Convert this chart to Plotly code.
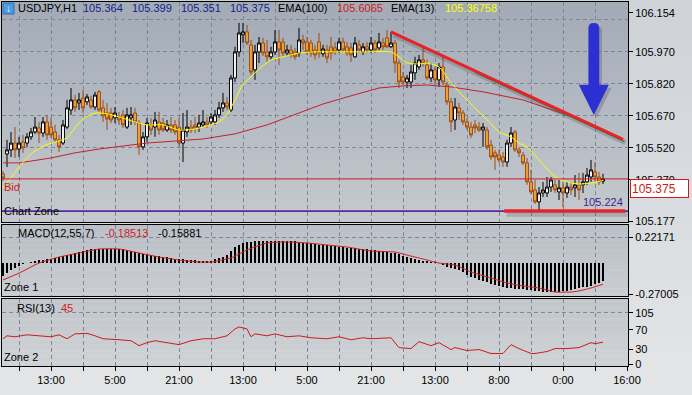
import plotly.graph_objects as go

# ---------------- data ----------------
OPEN = [105.398,105.492,105.511,105.543,105.515,105.548,105.543,105.572,105.595,105.614,
        105.590,105.642,105.618,105.595,105.558,105.543,105.618,105.698,105.745,105.731,
        105.754,105.736,105.745,105.712,105.783,105.708,105.684,105.684,105.661,105.665,
        105.675,105.618,105.661,105.684,105.637,105.525,105.572,105.628,105.618,105.642,
        105.637,105.604,105.628,105.628,105.618,105.543,105.595,105.618,105.628,105.618,
        105.628,105.642,105.642,105.642,105.675,105.708,105.731,105.698,105.848,105.970,
        106.050,106.064,106.003,105.886,105.970,106.012,105.970,105.947,105.970,106.017,
        106.017,105.965,105.979,105.970,105.965,106.026,106.017,106.012,105.979,106.017,
        105.961,105.979,105.994,105.989,105.979,106.017,105.994,105.989,105.947,106.003,
        105.970,105.994,105.979,106.012,105.989,106.012,106.036,105.994,106.012,105.918,
        105.853,105.829,105.829,105.872,105.900,105.933,105.909,105.848,105.886,105.839,
        105.900,105.815,105.736,105.651,105.708,105.684,105.642,105.618,105.628,105.618,
        105.604,105.604,105.534,105.497,105.487,105.478,105.454,105.543,105.595,105.511,
        105.487,105.450,105.361,105.323,105.267,105.309,105.309,105.337,105.347,105.314,
        105.333,105.309,105.337,105.333,105.347,105.347,105.361,105.384,105.408,105.384,
        105.364]
HIGH = [105.412,105.558,105.595,105.618,105.572,105.581,105.590,105.614,105.665,105.642,
        105.665,105.675,105.661,105.628,105.581,105.651,105.745,105.801,105.768,105.778,
        105.792,105.773,105.764,105.783,105.792,105.745,105.731,105.708,105.712,105.689,
        105.698,105.708,105.712,105.708,105.651,105.595,105.661,105.661,105.689,105.689,
        105.661,105.651,105.665,105.651,105.661,105.684,105.698,105.651,105.665,105.675,
        105.698,105.665,105.684,105.698,105.736,105.778,105.759,105.862,105.994,106.106,
        106.106,106.097,106.026,106.003,106.040,106.036,106.026,105.994,106.073,106.073,
        106.036,106.003,106.003,105.989,106.083,106.050,106.040,106.026,106.003,106.059,
        106.003,106.003,106.040,106.017,106.036,106.036,106.017,106.012,106.040,106.026,
        106.012,106.017,106.040,106.026,106.059,106.036,106.073,106.064,106.026,105.933,
        105.876,105.862,105.909,105.947,105.956,105.989,105.933,105.918,105.900,105.918,
        105.947,105.829,105.754,105.754,105.731,105.698,105.661,105.642,105.651,105.642,
        105.637,105.618,105.558,105.511,105.511,105.501,105.558,105.618,105.604,105.525,
        105.501,105.473,105.417,105.370,105.337,105.361,105.384,105.384,105.370,105.370,
        105.361,105.361,105.361,105.393,105.403,105.403,105.426,105.464,105.454,105.408,
        105.399]
LOW = [105.365,105.431,105.478,105.473,105.478,105.497,105.525,105.558,105.586,105.543,
       105.572,105.558,105.567,105.548,105.501,105.534,105.609,105.675,105.689,105.698,
       105.684,105.722,105.703,105.698,105.689,105.642,105.604,105.637,105.637,105.628,
       105.614,105.609,105.628,105.628,105.487,105.511,105.548,105.581,105.572,105.581,
       105.595,105.595,105.590,105.581,105.525,105.454,105.572,105.590,105.590,105.595,
       105.618,105.614,105.628,105.628,105.661,105.689,105.698,105.689,105.829,105.947,
       106.012,106.003,105.862,105.839,105.918,105.951,105.923,105.933,105.956,105.909,
       105.947,105.951,105.942,105.933,105.947,105.979,105.956,105.947,105.933,105.942,
       105.947,105.918,105.933,105.956,105.965,105.970,105.951,105.923,105.942,105.965,
       105.956,105.965,105.965,105.965,105.979,105.979,105.989,105.989,105.872,105.801,
       105.815,105.801,105.801,105.839,105.886,105.900,105.839,105.829,105.815,105.806,
       105.815,105.722,105.595,105.604,105.651,105.628,105.604,105.567,105.590,105.595,
       105.525,105.511,105.464,105.417,105.450,105.431,105.431,105.525,105.501,105.478,
       105.440,105.347,105.304,105.257,105.229,105.290,105.290,105.314,105.309,105.276,
       105.243,105.286,105.300,105.290,105.276,105.309,105.347,105.361,105.361,105.347,
       105.351]
CLOSE = [105.379,105.511,105.543,105.511,105.543,105.520,105.572,105.595,105.618,105.590,
         105.642,105.581,105.581,105.558,105.525,105.628,105.708,105.745,105.708,105.745,
         105.708,105.759,105.712,105.768,105.698,105.670,105.656,105.651,105.684,105.651,
         105.628,105.675,105.675,105.642,105.525,105.572,105.637,105.604,105.651,105.604,
         105.604,105.628,105.604,105.595,105.543,105.604,105.618,105.604,105.614,105.637,
         105.642,105.628,105.665,105.675,105.708,105.731,105.712,105.848,105.970,106.059,
         106.064,106.012,105.876,105.970,106.012,105.965,105.947,105.970,106.017,105.979,
         105.965,105.979,105.956,105.947,106.026,106.012,105.970,105.965,105.956,105.965,
         105.984,105.942,105.965,105.970,106.017,105.979,105.965,105.956,106.012,105.979,
         105.994,105.979,106.012,105.979,106.017,105.994,105.994,106.012,105.918,105.829,
         105.829,105.848,105.876,105.918,105.933,105.918,105.848,105.886,105.839,105.900,
         105.829,105.736,105.642,105.712,105.684,105.642,105.618,105.581,105.614,105.604,
         105.618,105.525,105.478,105.478,105.464,105.454,105.543,105.590,105.511,105.497,
         105.450,105.361,105.314,105.267,105.309,105.323,105.337,105.370,105.323,105.333,
         105.309,105.337,105.323,105.347,105.323,105.361,105.393,105.417,105.384,105.361,
         105.375]

EMA13_X = [0,2,4,7,10,14,16,18,20,23,26,29,33,36,40,44,48,51,54,56,58,60,62,64,67,70,74,78,
           90,97,99,101,104,106,109,112,114,117,120,122,124,127,129,131,134,137,139,142,144,147,150]
EMA13 = [105.333,105.379,105.431,105.492,105.529,105.553,105.567,105.614,105.656,105.684,
         105.680,105.665,105.642,105.628,105.628,105.604,105.609,105.623,105.642,105.675,
         105.745,105.820,105.853,105.890,105.933,105.947,105.965,105.970,105.970,105.970,
         105.947,105.918,105.914,105.918,105.900,105.825,105.783,105.726,105.670,105.633,
         105.595,105.572,105.543,105.525,105.464,105.403,105.375,105.356,105.351,105.356,
         105.36758]

EMA100_X = [0,4,12,18,24,36,50,58,66,74,80,86,94,100,106,112,120,130,138,146,150]
EMA100 = [105.450,105.450,105.473,105.497,105.515,105.543,105.562,105.586,105.628,105.684,
          105.726,105.759,105.801,105.811,105.815,105.806,105.783,105.745,105.694,105.642,
          105.6065]

MACD_HIST = [-0.115,-0.089,-0.063,-0.046,-0.028,-0.011,-0.003,0.006,0.015,0.019,
             0.023,0.030,0.036,0.042,0.049,0.058,0.066,0.075,0.084,0.092,
             0.101,0.110,0.118,0.120,0.121,0.120,0.118,0.118,0.119,0.119,
             0.118,0.110,0.101,0.092,0.084,0.077,0.070,0.064,0.058,0.054,
             0.050,0.045,0.041,0.036,0.032,0.028,0.023,0.021,0.019,0.017,
             0.015,0.015,0.015,0.028,0.041,0.053,0.066,0.100,0.135,0.153,
             0.170,0.175,0.179,0.183,0.187,0.188,0.189,0.190,0.190,0.189,
             0.188,0.187,0.187,0.183,0.178,0.174,0.170,0.166,0.162,0.157,
             0.153,0.149,0.144,0.140,0.137,0.135,0.131,0.128,0.124,0.121,
             0.117,0.114,0.110,0.106,0.101,0.097,0.093,0.088,0.084,0.072,
             0.061,0.049,0.040,0.032,0.023,0.017,0.012,0.006,0.002,-0.003,
             -0.020,-0.037,-0.046,-0.054,-0.063,-0.083,-0.103,-0.123,-0.135,-0.147,
             -0.158,-0.170,-0.181,-0.192,-0.201,-0.210,-0.218,-0.221,-0.224,-0.227,
             -0.230,-0.233,-0.236,-0.242,-0.247,-0.253,-0.254,-0.254,-0.253,-0.250,
             -0.247,-0.244,-0.235,-0.227,-0.218,-0.212,-0.207,-0.201,-0.187,-0.173,
             -0.15881]
MACD_SIG_X = [0,4,9,14,19,24,29,34,39,44,49,52,57,61,66,71,76,81,86,92,98,101,105,109,113,
              117,122,126,130,134,138,142,144,147,150]
MACD_SIG = [-0.149,-0.090,-0.003,0.049,0.084,0.118,0.118,0.084,0.049,0.023,0.006,0.006,
            0.041,0.110,0.170,0.179,0.170,0.153,0.135,0.101,0.092,0.066,0.032,-0.003,
            -0.020,-0.080,-0.132,-0.175,-0.201,-0.218,-0.253,-0.253,-0.244,-0.218,-0.18513]

RSI_X = [0,1,3,6,9,12,14,16,18,21,23,25,29,32,34,36,38,41,44,47,50,53,56,58,59,61,62,63,66,
         68,71,74,77,81,84,87,90,92,95,97,99,101,102,104,106,107,109,112,113,116,119,122,
         124,125,127,129,132,133,136,138,141,144,147,148,150]
RSI = [52,58,56,60,58,56,60,52,62,63,58,52,50,48,38,44,48,44,40,48,52,52,58,72,76,72,56,62,58,
       62,56,58,54,52,56,50,54,52,54,54,34,32,32,46,40,38,44,30,34,28,30,22,
       22,22,40,32,22,22,26,32,32,34,44,42,45]

X_TICKS = list(range(4, 157, 8))
X_LABELS = ['', '13:00', '', '5:00', '', '21:00', '', '13:00', '', '5:00', '',
            '21:00', '', '13:00', '', '8:00', '', '0:00', '', '16:00']
PRICE_TICKS = [106.154, 105.970, 105.820, 105.670, 105.520, 105.370, 105.177]
PRICE_GRID = [105.22, 105.52, 105.67, 105.82, 105.97, 106.12]
MACD_TICKS = [0.22171, -0.27005]
RSI_TICKS = [105, 70, 30, 0]

BID = 105.375
ZONE_LEVEL = 105.224
TREND = [(97, 106.064), (155, 105.560)]
SUPPORT = [(125.3, 105.224), (155.5, 105.224)]
ARROW_X, ARROW_TOP, ARROW_NECK, ARROW_TIP = 147.7, 106.106, 105.812, 105.675

# ---------------- styling helpers ----------------
W, H = 692, 395
ML, MR, MT, MB = 2, 64, 2, 29
PW, PH = W - ML - MR, H - MT - MB
FONT = 'Liberation Sans, Arial, sans-serif'


def px(xp):
    return (xp - ML) / PW


def py(yp):
    return (H - MB - yp) / PH


def hx(c):
    c = c.lstrip('#')
    return [int(c[i:i + 2], 16) for i in (0, 2, 4)]


def gradient(y0, y1, ctop, cbot, x0=0.0, x1=1.0, n=28):
    a, b = hx(ctop), hx(cbot)
    out = []
    step = (y1 - y0) / n
    for k in range(n):
        t = k / (n - 1)
        col = 'rgb(%d,%d,%d)' % tuple(round(a[j] + (b[j] - a[j]) * t) for j in range(3))
        top = y1 - k * step
        out.append(dict(type='rect', xref='paper', yref='paper', x0=x0, x1=x1,
                        y0=top - step * 1.08, y1=top, fillcolor=col, line_width=0,
                        layer='below'))
    return out


D_MAIN = [py(222), 1.0]
D_MACD = [py(296), py(225)]
D_RSI = [0.0, py(299)]

fig = go.Figure()

fig.add_trace(go.Candlestick(
    x=list(range(len(OPEN))), open=OPEN, high=HIGH, low=LOW, close=CLOSE,
    increasing=dict(fillcolor='#ffffff', line=dict(color='#000000', width=1)),
    decreasing=dict(fillcolor='#f2a436', line=dict(color='#9a4c16', width=1)),
    whiskerwidth=0, xaxis='x', yaxis='y', showlegend=False, hoverinfo='skip'))
fig.add_trace(go.Scatter(x=EMA100_X, y=EMA100, mode='lines', xaxis='x', yaxis='y',
                         line=dict(color='#c4202a', width=1), showlegend=False))
fig.add_trace(go.Scatter(x=EMA13_X, y=EMA13, mode='lines', xaxis='x', yaxis='y',
                         line=dict(color='#ffff00', width=1, shape='spline', smoothing=0.6),
                         showlegend=False))

fig.add_trace(go.Bar(x=list(range(len(MACD_HIST))), y=MACD_HIST, width=0.28,
                     marker=dict(color='#000000', line=dict(width=0)),
                     xaxis='x2', yaxis='y2', showlegend=False))
fig.add_trace(go.Scatter(x=MACD_SIG_X, y=MACD_SIG, mode='lines', xaxis='x2', yaxis='y2',
                         line=dict(color='#d01c1c', width=1, shape='spline', smoothing=0.5),
                         showlegend=False))
fig.add_trace(go.Scatter(x=RSI_X, y=RSI, mode='lines', xaxis='x3', yaxis='y3',
                         line=dict(color='#cc1c1c', width=1), showlegend=False))

grid = dict(gridcolor='#7c8898', griddash='4px,3px', gridwidth=1)
xcommon = dict(range=[-0.25, 156.25], tickmode='array', tickvals=X_TICKS, ticktext=X_LABELS,
               showgrid=True, zeroline=False, showline=True, mirror=True,
               linecolor='#000000', linewidth=1, **grid)
ycommon = dict(side='right', zeroline=False, showline=True, mirror=True, linecolor='#000000',
               linewidth=1, ticks='outside', ticklen=4, tickcolor='#000000',
               tickfont=dict(size=11, color='#000000', family=FONT), showgrid=False)

shapes = []
shapes += gradient(py(395), py(0), '#cfd3d8', '#e3e5e7', x0=px(0), x1=px(692))
shapes += gradient(D_MAIN[0], D_MAIN[1], '#a3abb6', '#c5c9ce')
shapes += gradient(D_MACD[0], D_MACD[1], '#b9bfc6', '#c9cdd1')
shapes += gradient(D_RSI[0], D_RSI[1], '#c1c6cb', '#cfd2d5')

# level lines
shapes.append(dict(type='line', xref='x', yref='y', x0=-0.25, x1=156.25, y0=BID, y1=BID,
                   line=dict(color='#c81e1e', width=1), layer='above'))
shapes.append(dict(type='line', xref='x', yref='y', x0=-0.25, x1=156.25, y0=ZONE_LEVEL,
                   y1=ZONE_LEVEL, line=dict(color='#5b2a9e', width=1.6), layer='above'))
# shadows
(tx0, ty0), (tx1, ty1) = TREND
shapes.append(dict(type='line', xref='x', yref='y', x0=tx0 + 0.6, x1=tx1 + 0.6,
                   y0=ty0 - 0.015, y1=ty1 - 0.015,
                   line=dict(color='rgba(60,60,70,0.22)', width=5), layer='above'))
(sx0, sy0), (sx1, sy1) = SUPPORT
shapes.append(dict(type='line', xref='x', yref='y', x0=sx0 + 0.6, x1=sx1 + 0.6,
                   y0=sy0 - 0.015, y1=sy1 - 0.015,
                   line=dict(color='rgba(60,60,70,0.22)', width=5), layer='above'))
# green companion line under the trend line
slope = (ty1 - ty0) / (tx1 - tx0)
gx0 = 118
shapes.append(dict(type='line', xref='x', yref='y', x0=gx0, x1=tx1 + 0.3,
                   y0=ty0 + slope * (gx0 - tx0) - 0.007, y1=ty1 + slope * 0.3 - 0.007,
                   line=dict(color='#2e7d32', width=1.3), layer='above'))
shapes.append(dict(type='line', xref='x', yref='y', x0=tx0, x1=tx1, y0=ty0, y1=ty1,
                   line=dict(color='#e82228', width=3), layer='above'))
shapes.append(dict(type='line', xref='x', yref='y', x0=sx0, x1=sx1, y0=sy0, y1=sy1,
                   line=dict(color='#e82228', width=3.5), layer='above'))


def arrow_paths(cx, dx, dy, color):
    sh, hh, cap = 1.35, 3.75, 0.024
    shaft = (f'M {cx - sh + dx},{ARROW_NECK + dy} L {cx - sh + dx},{ARROW_TOP - cap + dy} '
             f'Q {cx - sh + dx},{ARROW_TOP + dy} {cx + dx},{ARROW_TOP + dy} '
             f'Q {cx + sh + dx},{ARROW_TOP + dy} {cx + sh + dx},{ARROW_TOP - cap + dy} '
             f'L {cx + sh + dx},{ARROW_NECK + dy} Z')
    head = (f'M {cx - hh + dx},{ARROW_NECK + 0.004 + dy} L {cx + hh + dx},{ARROW_NECK + 0.004 + dy} '
            f'L {cx + dx},{ARROW_TIP + dy} Z')
    return [dict(type='path', xref='x', yref='y', path=p, fillcolor=color,
                 line=dict(width=0), layer='above') for p in (shaft, head)]


shapes += arrow_paths(ARROW_X, 0.7, -0.014, 'rgba(50,50,70,0.25)')
shapes += arrow_paths(ARROW_X, 0, 0, '#2c2fd2')

# icon box
shapes.append(dict(type='rect', xref='paper', yref='paper', x0=px(3), x1=px(14),
                   y0=py(14), y1=py(3), fillcolor='#4d9be0', line=dict(color='#2c6cb4', width=1),
                   layer='above'))

ann = []


def txt(x, y, s, color='#000000', size=11, anchor='left'):
    ann.append(dict(x=px(x), y=py(y), xref='paper', yref='paper', text=s, showarrow=False,
                    xanchor=anchor, yanchor='middle',
                    font=dict(family=FONT, size=size, color=color)))


txt(3.5, 8.5, '<b>↓</b>', '#ffffff', 10)
txt(16, 8, 'USDJPY,H1')
txt(81, 8, f'{OPEN[-1]:.3f}', '#14238c')
txt(130, 8, f'{HIGH[-1]:.3f}', '#14238c')
txt(179, 8, f'{LOW[-1]:.3f}', '#14238c')
txt(228, 8, f'{CLOSE[-1]:.3f}', '#14238c')
txt(276, 8, 'EMA(100)')
txt(335, 8, f'{EMA100[-1]:.4f}', '#d01c1c')
txt(389, 8, 'EMA(13)')
txt(443, 8, f'{EMA13[-1]:.5f}', '#ffff00')
txt(2, 187, 'Bid', '#c81e1e')
txt(2, 211, 'Chart Zone')
txt(625, 202, f'{ZONE_LEVEL:.3f}', '#4a1d8f', anchor='right')
txt(16, 232.5, 'MACD(12,55,7)')
txt(103, 232.5, f'{MACD_SIG[-1]:.5f}', '#d01c1c')
txt(156, 232.5, f'{MACD_HIST[-1]:.5f}')
txt(2, 287, 'Zone 1')
txt(15, 307.5, 'RSI(13)')
txt(59, 307.5, f'{RSI[-1]}', '#d01c1c')
txt(2, 357, 'Zone 2')
ann.append(dict(x=px(630), y=BID, xref='paper', yref='y', text=f'{BID:.3f}', showarrow=False,
                xanchor='left', yanchor='top', align='left', width=55, height=15,
                bgcolor='#ffffff', bordercolor='#c81e1e', borderwidth=1, borderpad=1,
                font=dict(family=FONT, size=12, color='#c81e1e')))

fig.update_layout(
    width=W, height=H, margin=dict(l=ML, r=MR, t=MT, b=MB),
    paper_bgcolor='#d9dce0', plot_bgcolor='rgba(0,0,0,0)',
    font=dict(family=FONT, size=11, color='#000000'),
    showlegend=False, boxgap=0.1, boxgroupgap=0.2, bargap=0,
    shapes=shapes, annotations=ann,
    xaxis=dict(domain=[0, 1], anchor='y', showticklabels=False, ticks='',
               rangeslider=dict(visible=False), **xcommon),
    xaxis2=dict(domain=[0, 1], anchor='y2', matches='x', showticklabels=False, ticks='',
                **xcommon),
    xaxis3=dict(domain=[0, 1], anchor='y3', matches='x', showticklabels=True, ticks='outside',
                ticklen=4, tickcolor='#000000',
                tickfont=dict(size=11, color='#000000', family=FONT), **xcommon),
    yaxis=dict(domain=D_MAIN, anchor='x', range=[105.173, 106.204], tickmode='array',
               tickvals=PRICE_TICKS, ticktext=[f'{v:.3f}' for v in PRICE_TICKS],
               minor=dict(tickmode='array', tickvals=PRICE_GRID, showgrid=True, ticks='', **grid),
               **ycommon),
    yaxis2=dict(domain=D_MACD, anchor='x2', range=[-0.2873, 0.3252], tickmode='array',
                tickvals=MACD_TICKS, ticktext=['0.22171', '-0.27005'],
                minor=dict(tickmode='array', tickvals=[0.2217], showgrid=True, ticks='', **grid),
                **ycommon),
    yaxis3=dict(domain=D_RSI, anchor='x3', range=[-3.46, 132.9], tickmode='array',
                tickvals=RSI_TICKS, ticktext=[str(v) for v in RSI_TICKS],
                minor=dict(tickmode='array', tickvals=[104.9], showgrid=True, ticks='', **grid),
                **ycommon),
)

fig.write_html('out.html', config={'displayModeBar': False, 'staticPlot': True},
               post_script="document.body.style.margin='0';document.body.style.overflow='hidden';")
